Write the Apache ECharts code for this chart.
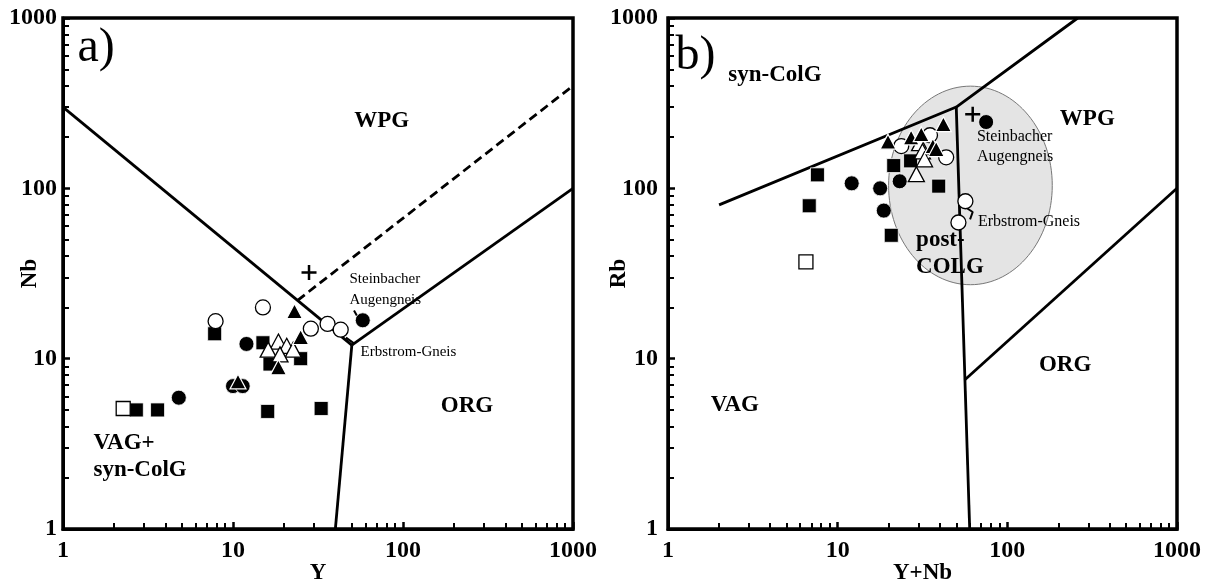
<!DOCTYPE html>
<html><head><meta charset="utf-8">
<script src="https://cdn.jsdelivr.net/npm/echarts@6/dist/echarts.min.js"></script>
<style>html,body{margin:0;padding:0;background:#fff}#c{width:1206px;height:580px}</style>
</head><body><div id="c"></div>
<script>
// ---------- axis ticks ----------
const tickValues = [1, 10, 100, 1000];
const tickLabels = ['1', '10', '100', '1000'];

// ---------- panel a: Nb vs Y ----------
const aFilledSquare   = [[2.7,5],[3.6,5],[7.8,14],[15,12.4],[16.5,9.3],[25,10],[16,4.9],[33,5.1]];
const aOpenSquare     = [[2.26,5.1]];
const aFilledCircle   = [[4.8,5.9],[12,12.2],[10,6.9],[11.4,6.9],[58,16.8]];
const aOpenCircle     = [[15,20],[7.9,16.6],[28.7,15],[36,16],[43,14.8]];
const aFilledTriangle = [[23,19],[25,13.4],[18.5,8.9],[10.7,7.35]];
const aOpenTriangle   = [[18.5,12.6],[20.7,11.9],[16.1,11.3],[22.6,11.3],[18.9,10.6]];
const aCross          = [[28,32]];
// field boundaries (Y, Nb)
const aLine1  = [[1,300],[50,12]];
const aLine2  = [[50,12],[1000,100]];
const aLine3  = [[50,12],[40,1]];
const aDashed = [[24,22],[1000,400]];
const aLeader1 = [[51.5,19.2],[53.9,17.7]];
const aLeader2 = [[46.2,13.3],[51.5,12.3]];

// ---------- panel b: Rb vs Y+Nb ----------
const bFilledSquare   = [[7.6,120],[6.8,79],[20.7,53],[21.4,136],[26.9,145],[39.4,103]];
const bOpenSquare     = [[6.5,37]];
const bFilledCircle   = [[12.1,107],[17.8,100],[18.7,74],[23.2,110],[75,245]];
const bOpenCircle     = [[23.7,177],[35,205],[43.6,152],[56.6,84],[51.5,63]];
const bFilledTriangle = [[19.8,188],[27.1,199],[31.1,208],[36.4,177],[38.1,170],[42,238]];
const bOpenTriangle   = [[30.4,184],[31.6,165],[32.5,148],[29.1,121]];
const bCross          = [[62.5,272]];
const bLine1 = [[2,80],[50,300],[260,1000]];
const bLine2 = [[50,300],[60,1]];
const bLine3 = [[56,7.5],[1000,100]];
const bLeader = [[57.2,76.9],[62.5,72.6],[60.3,65.7]];
// post-COLG field: centre and edge (Y+Nb, Rb)
const bEllipse = [60.6, 104, 184, 398];

// ---------- annotations [text, x, y, anchor] ----------
const aBigText   = [['WPG',75,248,'c'],['ORG',238,5.3,'c'],['VAG+',1.5,3.2,'l'],['syn-ColG',1.5,2.22,'l']];
const aSmallText = [['Steinbacher',48.1,29.2],['Augengneis',48.1,22.2],['Erbstrom-Gneis',55.9,11.0]];
const aPanelText = [['a)',1.209,666]];
const bBigText   = [['syn-ColG',2.25,462,'l'],['WPG',296,255,'c'],['ORG',219,9.22,'c'],['VAG',2.48,5.36,'c'],['post-',28.8,49.5,'l'],['COLG',28.8,34.3,'l']];
const bSmallText = [['Steinbacher',65.7,199.7],['Augengneis',65.7,154],['Erbstrom-Gneis',66.6,63.9]];
const bPanelText = [['b)',1.1,598]];

const F = 'Liberation Serif';
const fmt = v => { const i = tickValues.indexOf(Math.round(v)); return i >= 0 ? tickLabels[i] : ''; };

function axis(gi, name, isY, labelMargin, nameGap) {
  return {
    type: 'log', logBase: 10, gridIndex: gi, min: 1, max: 1000,
    name: name, nameLocation: 'middle', nameGap: nameGap, nameMoveOverlap: false,
    nameTextStyle: { fontFamily: F, fontWeight: 'bold', fontSize: 23, color: '#000', lineHeight: 23 },
    axisLine: { show: true, onZero: false, lineStyle: { color: '#000', width: 3 } },
    axisTick: { show: true, inside: true, length: 7, lineStyle: { color: '#000', width: 2.5 } },
    minorTick: { show: true, splitNumber: 9, length: 6, lineStyle: { color: '#000', width: 2 } },
    axisLabel: { show: true, margin: labelMargin, formatter: fmt, fontFamily: F, fontWeight: 'bold',
                 fontSize: 24, color: '#000', lineHeight: 24, showMinLabel: true, showMaxLabel: true },
    splitLine: { show: false }, minorSplitLine: { show: false }
  };
}

function lineSeries(gi, data, dashed, width) {
  return { type: 'line', xAxisIndex: gi, yAxisIndex: gi, data: data, symbol: 'none', silent: true, z: 3,
           lineStyle: { color: '#000', width: width || 2.8, type: dashed ? [9, 5] : 'solid' } };
}
function pts(gi, data, symbol, size, fill, stroke, bw) {
  return { type: 'scatter', xAxisIndex: gi, yAxisIndex: gi, data: data, symbol: symbol, symbolSize: size,
           silent: true, z: 5, itemStyle: { color: fill, borderColor: stroke, borderWidth: bw, opacity: 1 } };
}
function textSeries(gi, items, size, bold) {
  return { type: 'scatter', xAxisIndex: gi, yAxisIndex: gi, symbolSize: 1, silent: true, z: 6,
    itemStyle: { color: 'rgba(255,255,255,0)' },
    data: items.map(d => ({ value: [d[1], d[2]], label: {
      formatter: d[0], position: d[3] === 'c' ? 'inside' : 'right', distance: 0 } })),
    label: { show: true, fontFamily: F, fontWeight: bold ? 'bold' : 'normal', fontSize: size, color: '#000',
             opacity: 1, textBorderWidth: 0 } };
}
const crossPath = 'path://M5,0H7V5H12V7H7V12H5V7H0V5H5Z';

function panelSeries(gi, d) {
  return [
    ...d.lines,
    pts(gi, d.fs, 'rect', 14, '#000', '#fff', 0.8),
    pts(gi, d.os, 'rect', 14, '#fff', '#000', 1.3),
    pts(gi, d.fc, 'circle', 15, '#000', '#fff', 0.8),
    pts(gi, d.oc, 'circle', 15, '#fff', '#000', 1.3),
    pts(gi, d.ot, 'triangle', [16, 15], '#fff', '#000', 1.3),
    pts(gi, d.ft, 'triangle', [16, 15], '#000', '#fff', 1.2),
    pts(gi, d.cr, crossPath, 15, '#000', '#000', 0),
    textSeries(gi, d.big, 23, true),
    textSeries(gi, d.small, d.smallSize, false),
    textSeries(gi, d.panel, 48, false)
  ];
}

const ellipseSeries = {
  type: 'custom', xAxisIndex: 1, yAxisIndex: 1, silent: true, z: 1,
  data: [bEllipse],
  renderItem: function (params, api) {
    const c = api.coord([api.value(0), api.value(1)]);
    const e = api.coord([api.value(2), api.value(3)]);
    return { type: 'ellipse', shape: { cx: c[0], cy: c[1], rx: Math.abs(e[0] - c[0]), ry: Math.abs(c[1] - e[1]) },
             style: { fill: '#e4e4e4', stroke: '#777', lineWidth: 1 } };
  }
};

const gridBase = { top: 18, height: 511, show: true, borderColor: '#000', borderWidth: 3.5,
                   backgroundColor: 'transparent', containLabel: false, outerBoundsMode: 'none' };
const option = {
  animation: false,
  backgroundColor: '#fff',
  grid: [
    Object.assign({ left: 63, width: 510 }, gridBase),
    Object.assign({ left: 668, width: 509 }, gridBase)
  ],
  xAxis: [axis(0, 'Y', false, 10, 33), axis(1, 'Y+Nb', false, 10, 33)],
  yAxis: [axis(0, 'Nb', true, 6, 21), axis(1, 'Rb', true, 10, 37)],
  series: [
    ellipseSeries,
    ...panelSeries(0, {
      lines: [lineSeries(0, aLine1), lineSeries(0, aLine2), lineSeries(0, aLine3), lineSeries(0, aDashed, true),
              lineSeries(0, aLeader1, false, 2), lineSeries(0, aLeader2, false, 2)],
      fs: aFilledSquare, os: aOpenSquare, fc: aFilledCircle, oc: aOpenCircle, ft: aFilledTriangle, ot: aOpenTriangle, cr: aCross,
      big: aBigText, small: aSmallText, smallSize: 15, panel: aPanelText
    }),
    ...panelSeries(1, {
      lines: [lineSeries(1, bLine1), lineSeries(1, bLine2), lineSeries(1, bLine3), lineSeries(1, bLeader, false, 2)],
      fs: bFilledSquare, os: bOpenSquare, fc: bFilledCircle, oc: bOpenCircle, ft: bFilledTriangle, ot: bOpenTriangle, cr: bCross,
      big: bBigText, small: bSmallText, smallSize: 16, panel: bPanelText
    })
  ]
};
const chart = echarts.init(document.getElementById('c'), null, { renderer: 'canvas' });
chart.setOption(option);
</script></body></html>
